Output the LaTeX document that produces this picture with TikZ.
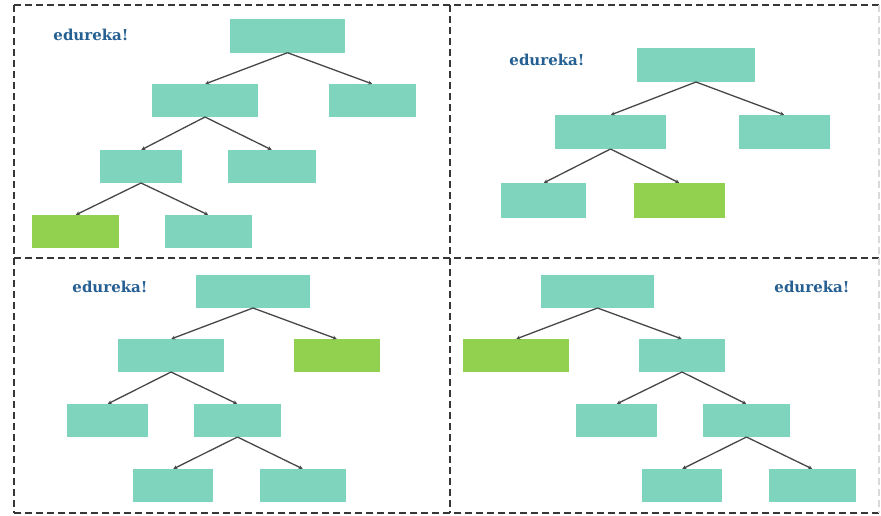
\documentclass[tikz,border=0pt]{standalone}
\usepackage{fontspec}
\newfontfamily\logofont{DejaVu Serif}
\usetikzlibrary{arrows.meta}
\definecolor{teal}{RGB}{127,212,190}
\definecolor{leaf}{RGB}{146,208,80}
\definecolor{logoblue}{RGB}{38,96,146}
\definecolor{framegray}{RGB}{55,55,55}
\tikzset{
  tbox/.style={fill=teal, draw=none, inner sep=0pt, outer sep=0pt},
  gbox/.style={fill=leaf, draw=none, inner sep=0pt, outer sep=0pt},
  edge/.style={draw=black!72, line width=1.3pt, -{Stealth[length=4pt,width=4pt]}, shorten >=0.3pt},
  frame/.style={draw=framegray, line width=2pt, dash pattern=on 7pt off 4pt},
  logo/.style={text=logoblue, font=\logofont\bfseries\fontsize{15}{15}\selectfont, inner sep=0pt}
}
% box from corner (x1,y1) to corner (x2,y2)
\newcommand\treebox[6]{%
  \node[#6, minimum width={(#4-#2)*1pt}, minimum height={(#5-#3)*1pt}] (#1) at ({(#2+#4)/2},{(#3+#5)/2}) {};}
\begin{document}
\begin{tikzpicture}[x=1pt,y=-1pt]
\useasboundingbox (0,0) rectangle (881,515);
\fill[white] (0,0) rectangle (881,515);

% dashed panel frame
\draw[frame] (14,5) -- (880,5);
\draw[frame] (14,258) -- (880,258);
\draw[frame] (14,513) -- (880,513);
\draw[frame] (14,5) -- (14,513);
\draw[frame] (449.5,5) -- (449.5,513);
\draw[frame, draw=black!15, line width=1.2pt] (879,5) -- (879,513);

% panel 1
\node[logo] (l1) at (91,35) {edureka!};
\treebox{p1r}{230}{19.3}{345}{52.7}{tbox}
\treebox{p1a}{152}{84}{258}{117}{tbox}
\treebox{p1b}{329}{84}{416}{117}{tbox}
\treebox{p1c}{100}{150}{182}{183}{tbox}
\treebox{p1d}{228}{150}{316}{183}{tbox}
\treebox{p1e}{32}{215}{119}{248}{gbox}
\treebox{p1f}{165}{215}{252}{248}{tbox}
\draw[edge] (p1r.south) -- (p1a.north);
\draw[edge] (p1r.south) -- (p1b.north);
\draw[edge] (p1a.south) -- (p1c.north);
\draw[edge] (p1a.south) -- (p1d.north);
\draw[edge] (p1c.south) -- (p1e.north);
\draw[edge] (p1c.south) -- (p1f.north);

% panel 2
\node[logo] (l2) at (547,60) {edureka!};
\treebox{p2r}{637}{48}{755}{82}{tbox}
\treebox{p2a}{555}{115}{666}{149}{tbox}
\treebox{p2b}{739}{115}{830}{149}{tbox}
\treebox{p2c}{501}{183}{586}{218}{tbox}
\treebox{p2d}{634}{183}{725}{218}{gbox}
\draw[edge] (p2r.south) -- (p2a.north);
\draw[edge] (p2r.south) -- (p2b.north);
\draw[edge] (p2a.south) -- (p2c.north);
\draw[edge] (p2a.south) -- (p2d.north);

% panel 3
\node[logo] (l3) at (110,287) {edureka!};
\treebox{p3r}{196}{275}{310}{308}{tbox}
\treebox{p3a}{118}{339}{224}{372}{tbox}
\treebox{p3b}{294}{339}{380}{372}{gbox}
\treebox{p3c}{67}{404}{148}{437}{tbox}
\treebox{p3d}{194}{404}{281}{437}{tbox}
\treebox{p3e}{133}{469}{213}{502}{tbox}
\treebox{p3f}{260}{469}{346}{502}{tbox}
\draw[edge] (p3r.south) -- (p3a.north);
\draw[edge] (p3r.south) -- (p3b.north);
\draw[edge] (p3a.south) -- (p3c.north);
\draw[edge] (p3a.south) -- (p3d.north);
\draw[edge] (p3d.south) -- (p3e.north);
\draw[edge] (p3d.south) -- (p3f.north);

% panel 4
\node[logo] (l4) at (812,287) {edureka!};
\treebox{p4r}{541}{275}{654}{308}{tbox}
\treebox{p4a}{463}{339}{569}{372}{gbox}
\treebox{p4b}{639}{339}{725}{372}{tbox}
\treebox{p4c}{576}{404}{657}{437}{tbox}
\treebox{p4d}{703}{404}{790}{437}{tbox}
\treebox{p4e}{642}{469}{722}{502}{tbox}
\treebox{p4f}{769}{469}{856}{502}{tbox}
\draw[edge] (p4r.south) -- (p4a.north);
\draw[edge] (p4r.south) -- (p4b.north);
\draw[edge] (p4b.south) -- (p4c.north);
\draw[edge] (p4b.south) -- (p4d.north);
\draw[edge] (p4d.south) -- (p4e.north);
\draw[edge] (p4d.south) -- (p4f.north);
\end{tikzpicture}
\end{document}
